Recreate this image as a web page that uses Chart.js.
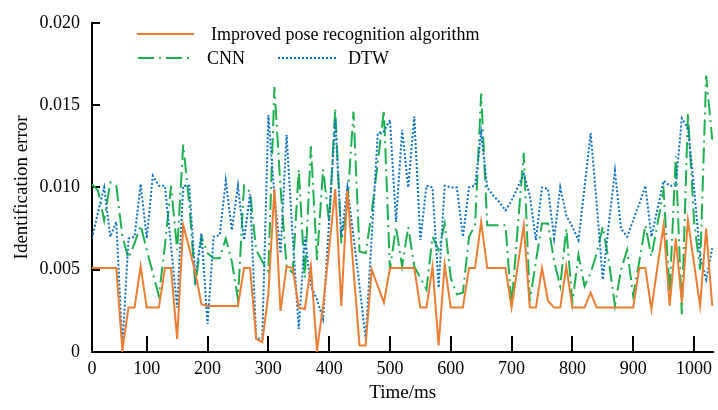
<!DOCTYPE html>
<html>
<head>
<meta charset="utf-8">
<title>Identification error</title>
<script src="https://cdn.jsdelivr.net/npm/chart.js@4.4.1/dist/chart.umd.min.js"></script>
<style>
  html, body { margin: 0; padding: 0; background: #fff; }
  #wrap { width: 718px; height: 410px; }
</style>
</head>
<body>
<div id="wrap"><canvas id="errChart" width="718" height="410"></canvas></div>
<script>
// sample times (ms), one reading every 10 ms
const times = [
  10, 20, 30, 40, 50, 60, 70, 80, 90, 100,
  110, 120, 130, 140, 150, 160, 170, 180, 190, 200,
  210, 220, 230, 240, 250, 260, 270, 280, 290, 300,
  310, 320, 330, 340, 350, 360, 370, 380, 390, 400,
  410, 420, 430, 440, 450, 460, 470, 480, 490, 500,
  510, 520, 530, 540, 550, 560, 570, 580, 590, 600,
  610, 620, 630, 640, 650, 660, 670, 680, 690, 700,
  710, 720, 730, 740, 750, 760, 770, 780, 790, 800,
  810, 820, 830, 840, 850, 860, 870, 880, 890, 900,
  910, 920, 930, 940, 950, 960, 970, 980, 990, 1000,
  1010, 1020, 1030
];

const improved = [
  0.0051, 0.0051, 0.0051, 0.0051, 0.0051, 0.0001, 0.0027, 0.0027, 0.0052, 0.0027,
  0.0027, 0.0027, 0.0051, 0.0051, 0.0008, 0.0077, 0.0063, 0.0048, 0.0029, 0.0028,
  0.0028, 0.0028, 0.0028, 0.0028, 0.0028, 0.0051, 0.0051, 0.0008, 0.0006, 0.0035,
  0.0099, 0.0025, 0.0052, 0.0051, 0.0027, 0.0026, 0.0052, 0.0001, 0.0028, 0.0063,
  0.0099, 0.0028, 0.0098, 0.0050, 0.0004, 0.0004, 0.0050, 0.0040, 0.0030, 0.0051,
  0.0051, 0.0051, 0.0051, 0.0051, 0.0027, 0.0027, 0.0052, 0.0004, 0.0053, 0.0027,
  0.0027, 0.0027, 0.0051, 0.0051, 0.0079, 0.0051, 0.0051, 0.0051, 0.0051, 0.0027,
  0.0052, 0.0077, 0.0027, 0.0027, 0.0051, 0.0031, 0.0027, 0.0027, 0.0052, 0.0027,
  0.0027, 0.0027, 0.0036, 0.0027, 0.0027, 0.0027, 0.0027, 0.0027, 0.0027, 0.0027,
  0.0051, 0.0051, 0.0026, 0.0052, 0.0077, 0.0028, 0.0069, 0.0030, 0.0080, 0.0054,
  0.0028, 0.0075, 0.0028
];

const cnn = [
  0.0102, 0.0098, 0.0080, 0.0103, 0.0101, 0.0070, 0.0057, 0.0066, 0.0077, 0.0062,
  0.0048, 0.0034, 0.0065, 0.0101, 0.0062, 0.0126, 0.0090, 0.0040, 0.0070, 0.0060,
  0.0057, 0.0057, 0.0069, 0.0055, 0.0032, 0.0101, 0.0097, 0.0062, 0.0055, 0.0049,
  0.0161, 0.0100, 0.0052, 0.0048, 0.0111, 0.0045, 0.0125, 0.0056, 0.0111, 0.0079,
  0.0148, 0.0066, 0.0090, 0.0146, 0.0061, 0.0060, 0.0085, 0.0115, 0.0147, 0.0050,
  0.0076, 0.0052, 0.0076, 0.0052, 0.0045, 0.0038, 0.0070, 0.0062, 0.0078, 0.0045,
  0.0035, 0.0036, 0.0070, 0.0077, 0.0157, 0.0077, 0.0077, 0.0077, 0.0077, 0.0028,
  0.0075, 0.0121, 0.0031, 0.0055, 0.0078, 0.0078, 0.0055, 0.0040, 0.0075, 0.0030,
  0.0059, 0.0040, 0.0048, 0.0060, 0.0076, 0.0055, 0.0028, 0.0050, 0.0062, 0.0034,
  0.0055, 0.0077, 0.0058, 0.0078, 0.0098, 0.0036, 0.0119, 0.0023, 0.0145, 0.0080,
  0.0050, 0.0168, 0.0129
];

const dtw = [
  0.0069, 0.0085, 0.0100, 0.0070, 0.0079, 0.0003, 0.0069, 0.0070, 0.0102, 0.0069,
  0.0107, 0.0101, 0.0101, 0.0064, 0.0027, 0.0101, 0.0101, 0.0045, 0.0072, 0.0017,
  0.0070, 0.0071, 0.0104, 0.0074, 0.0101, 0.0068, 0.0096, 0.0008, 0.0008, 0.0144,
  0.0095, 0.0060, 0.0132, 0.0070, 0.0014, 0.0070, 0.0040, 0.0032, 0.0020, 0.0080,
  0.0141, 0.0070, 0.0100, 0.0070, 0.0040, 0.0008, 0.0070, 0.0133, 0.0134, 0.0141,
  0.0079, 0.0135, 0.0100, 0.0143, 0.0068, 0.0101, 0.0100, 0.0039, 0.0101, 0.0100,
  0.0100, 0.0070, 0.0100, 0.0101, 0.0133, 0.0100, 0.0095, 0.0091, 0.0086, 0.0092,
  0.0100, 0.0108, 0.0095, 0.0068, 0.0100, 0.0099, 0.0069, 0.0100, 0.0083, 0.0076,
  0.0068, 0.0100, 0.0133, 0.0090, 0.0044, 0.0078, 0.0110, 0.0075, 0.0070, 0.0080,
  0.0090, 0.0101, 0.0070, 0.0087, 0.0104, 0.0101, 0.0101, 0.0142, 0.0136, 0.0100,
  0.0058, 0.0044, 0.0063
];

// the axis origin sits on the first sample and is labelled 0
const xTickValues = [10, 100, 200, 300, 400, 500, 600, 700, 800, 900, 1000];
const xTickLabels = ['0', '100', '200', '300', '400', '500', '600', '700', '800', '900', '1000'];
const yTickValues = [0, 0.005, 0.010, 0.015, 0.020];

const SERIF = '"Liberation Serif", "Times New Roman", serif';
const ORANGE = '#ED7D31';
const GREEN = '#1DB04F';
const BLUE = '#0A70C4';
const DASH_DOT = [16, 5, 2, 5];
const DOTS = [2, 2];

const toPoints = ys => ys.map((y, i) => ({ x: times[i], y }));

// short tick marks pointing into the plot
const innerTicks = {
  id: 'innerTicks',
  beforeDatasetsDraw(chart) {
    const { ctx, chartArea, scales: { x, y } } = chart;
    ctx.save();
    ctx.strokeStyle = '#000';
    ctx.lineWidth = 2;
    ctx.beginPath();
    x.ticks.forEach((t, i) => {
      if (i === 0) return;
      const px = Math.round(x.getPixelForValue(t.value));
      ctx.moveTo(px, chartArea.bottom);
      ctx.lineTo(px, chartArea.bottom - 16);
    });
    y.ticks.forEach(t => {
      if (t.value === 0) return;
      const py = Math.round(y.getPixelForValue(t.value));
      ctx.moveTo(chartArea.left, py);
      ctx.lineTo(chartArea.left + 8, py);
    });
    ctx.stroke();
    ctx.restore();
  }
};

// legend drawn inside the plot, two rows
const legendRows = [
  { label: 'Improved pose recognition algorithm', color: ORANGE, dash: [], x1: 137, x2: 194, y: 34, tx: 211 },
  { label: 'CNN', color: GREEN, dash: DASH_DOT, x1: 138, x2: 192, y: 58, tx: 207 },
  { label: 'DTW', color: BLUE, dash: DOTS, x1: 278, x2: 337, y: 58, tx: 348 }
];

const insetLegend = {
  id: 'insetLegend',
  afterDraw(chart) {
    const ctx = chart.ctx;
    ctx.save();
    legendRows.forEach(r => {
      ctx.strokeStyle = r.color;
      ctx.lineWidth = 2;
      ctx.setLineDash(r.dash);
      ctx.beginPath();
      ctx.moveTo(r.x1, r.y);
      ctx.lineTo(r.x2, r.y);
      ctx.stroke();
      ctx.setLineDash([]);
      ctx.fillStyle = '#000';
      ctx.font = '18px ' + SERIF;
      ctx.textBaseline = 'middle';
      ctx.textAlign = 'left';
      ctx.fillText(r.label, r.tx, r.y + 1);
    });
    ctx.restore();
  }
};

new Chart(document.getElementById('errChart'), {
  type: 'line',
  data: {
    datasets: [
      {
        label: 'Improved pose recognition algorithm',
        data: toPoints(improved),
        borderColor: ORANGE,
        borderWidth: 2,
        pointRadius: 0,
        tension: 0,
        order: 0
      },
      {
        label: 'CNN',
        data: toPoints(cnn),
        borderColor: GREEN,
        borderWidth: 2,
        borderDash: DASH_DOT,
        pointRadius: 0,
        tension: 0,
        order: 2
      },
      {
        label: 'DTW',
        data: toPoints(dtw),
        borderColor: BLUE,
        borderWidth: 2,
        borderDash: DOTS,
        pointRadius: 0,
        tension: 0,
        order: 1
      }
    ]
  },
  options: {
    responsive: false,
    devicePixelRatio: 1,
    animation: false,
    layout: { padding: { top: 13, right: 0, bottom: 0, left: 0 } },
    plugins: {
      legend: { display: false },
      tooltip: { enabled: false }
    },
    scales: {
      x: {
        type: 'linear',
        min: 10,
        max: 1032,
        grid: { display: false, drawTicks: false },
        border: { display: true, color: '#000', width: 2 },
        afterBuildTicks: scale => {
          scale.ticks = xTickValues.map(v => ({ value: v }));
        },
        afterFit: scale => { scale.height = 58; },
        ticks: {
          autoSkip: false,
          maxRotation: 0,
          padding: 6,
          color: '#000',
          font: { family: SERIF, size: 18 },
          callback: (value, index) => xTickLabels[index]
        },
        title: {
          display: true,
          text: 'Time/ms',
          color: '#000',
          font: { family: SERIF, size: 19 },
          padding: { top: 0, bottom: 6 }
        }
      },
      y: {
        min: 0,
        max: 0.02,
        grid: { display: false, drawTicks: false },
        border: { display: true, color: '#000', width: 2 },
        afterBuildTicks: scale => {
          scale.ticks = yTickValues.map(v => ({ value: v }));
        },
        afterFit: scale => { scale.width = 92; },
        ticks: {
          padding: 12,
          color: '#000',
          font: { family: SERIF, size: 18 },
          callback: value => (value === 0 ? '0' : value.toFixed(3))
        },
        title: {
          display: true,
          text: 'Identification error',
          color: '#000',
          font: { family: SERIF, size: 19 },
          padding: { top: 11, bottom: 0 }
        }
      }
    }
  },
  plugins: [innerTicks, insetLegend]
});
</script>
</body>
</html>
